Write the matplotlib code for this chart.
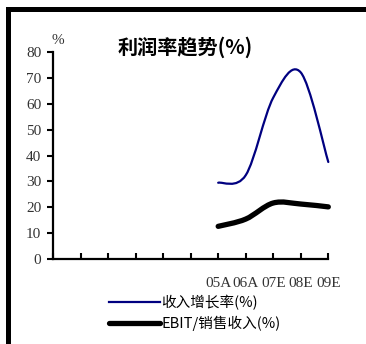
import numpy as np
import matplotlib
matplotlib.use('Agg')
import matplotlib.pyplot as plt
from matplotlib.path import Path
from matplotlib.patches import PathPatch, Rectangle
from matplotlib.lines import Line2D

# data
years = ['05A', '06A', '07E', '08E', '09E']
rev_growth = [29.5, 32.4, 62.3, 72.0, 37.5]
ebit_margin = [12.7, 15.5, 21.7, 21.3, 20.2]
n_empty = 6          # empty category slots before 05A
yticks = [0, 10, 20, 30, 40, 50, 60, 70, 80]

title = '利润率趋势(%)'
lab_rev = '收入增长率(%)'
lab_ebit = 'EBIT/销售收入(%)'

cjk = ['Noto Sans CJK SC', 'DejaVu Sans']
serif = 'Liberation Serif'


def smooth_path(x, y):
    # excel style smoothed line: bezier segments through every point
    x = np.asarray(x, float)
    y = np.asarray(y, float)
    px = np.concatenate([[x[0]], x, [x[-1]]])
    py = np.concatenate([[y[0]], y, [y[-1]]])
    verts = [(x[0], y[0])]
    codes = [Path.MOVETO]
    for i in range(len(x) - 1):
        j = i + 1
        c1 = (px[j] + (px[j + 1] - px[j - 1]) / 6, py[j] + (py[j + 1] - py[j - 1]) / 6)
        c2 = (px[j + 1] - (px[j + 2] - px[j]) / 6, py[j + 1] - (py[j + 2] - py[j]) / 6)
        verts += [c1, c2, (x[i + 1], y[i + 1])]
        codes += [Path.CURVE4] * 3
    return Path(verts, codes)


fig = plt.figure(figsize=(3.66, 3.44), dpi=100)
ax = fig.add_axes([0.1448, 0.2462, 0.897 - 0.1448, 0.8497 - 0.2462])

xpos = np.arange(len(years)) + n_empty
ax.add_patch(PathPatch(smooth_path(xpos, rev_growth), fill=False,
                       edgecolor='#000080', lw=1.6, capstyle='round',
                       clip_on=False))
ax.add_patch(PathPatch(smooth_path(xpos, ebit_margin), fill=False,
                       edgecolor='black', lw=3.8, capstyle='round',
                       clip_on=False))

ax.set_xlim(0, n_empty + len(years) - 1)
ax.set_ylim(yticks[0], yticks[-1])
ax.set_xticks(np.arange(n_empty + len(years)))
ax.set_xticklabels([''] * n_empty + years)
ax.set_yticks(yticks)

for s in ['top', 'right']:
    ax.spines[s].set_visible(False)
for s in ['left', 'bottom']:
    ax.spines[s].set_linewidth(1.6)

ax.tick_params(axis='y', direction='out', length=4.5, width=1.5, pad=4,
               labelsize=11, labelcolor='#333333')
ax.tick_params(axis='x', direction='in', length=4.5, width=1.5, pad=13,
               labelsize=11, labelcolor='#333333')
for lab in ax.get_xticklabels() + ax.get_yticklabels():
    lab.set_fontfamily(serif)

fig.text(0.157, 0.883, '%', fontsize=11, family=serif, color='#333333',
         ha='center', va='center')
fig.text(0.505, 0.863, title, fontsize=14.5, fontweight='bold', family=cjk,
         ha='center', va='center')

handles = [Line2D([], [], color='#000080', lw=1.6),
           Line2D([], [], color='black', lw=3.8, solid_capstyle='round')]
fig.legend(handles, [lab_rev, lab_ebit], loc='upper left',
           bbox_to_anchor=(0.278, 0.163), frameon=False, borderpad=0,
           handlelength=3.5, handletextpad=0.1, labelspacing=0.38,
           prop={'family': cjk, 'size': 10.5})

# outer frame (thick top and left edges)
fig.add_artist(Rectangle((6 / 366, 1 - 12 / 344), 1, 5 / 344,
                         transform=fig.transFigure, color='black', lw=0))
fig.add_artist(Rectangle((6 / 366, 0), 5 / 366, 1 - 7 / 344,
                         transform=fig.transFigure, color='black', lw=0))

fig.savefig('out.png', dpi=100)
